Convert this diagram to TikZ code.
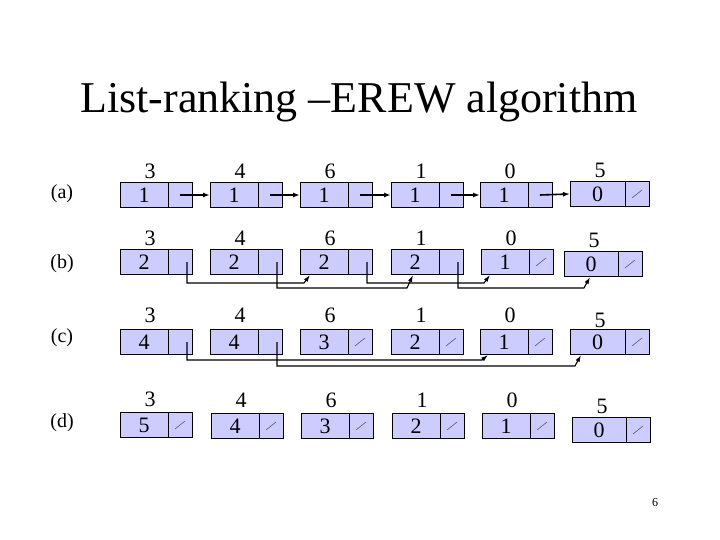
\documentclass[tikz,border=0pt]{standalone}
\usepackage{fontspec}
\setmainfont{Liberation Serif}
\usetikzlibrary{calc,arrows.meta}
\definecolor{boxfill}{RGB}{204,204,255}
\tikzset{
  valbox/.style={draw=black, line width=0.9pt, fill=boxfill, minimum height=25pt, inner sep=0pt, outer sep=0pt, font=\fontsize{22}{24}\selectfont},
  ptrbox/.style={draw=black, line width=0.9pt, fill=boxfill, minimum height=25pt, minimum width=24pt, inner sep=0pt, outer sep=0pt, anchor=west},
  toplab/.style={font=\fontsize{22}{24}\selectfont, inner sep=0pt},
  rowlab/.style={font=\fontsize{20}{22}\selectfont, inner sep=0pt},
  nullmark/.style={line width=0.5pt, draw=black!70},
  nextarrow/.style={line width=1.6pt, -{Latex[length=7pt,width=5pt]}},
  conn/.style={line width=1.1pt, -{Latex[length=7pt,width=4.5pt]}}
}
% name, left x, centre y, value width, top label, value, label y
\newcommand\lnode[7]{%
  \node[valbox, minimum width=#4pt] (#1v) at ({#2+#4/2},#3) {#6};
  \node[ptrbox] (#1p) at (#1v.east) {};
  \node[toplab] (#1l) at ({#2+30},#7) {#5};
}
\newcommand\nullp[1]{\draw[nullmark] ($(#1p.center)+(-5,4)$) -- ($(#1p.center)+(5,-4)$);}
\newcommand\jump[4]{%
  \draw[conn] ($(#1p.east)+(-5,0)$) |- ($(#2v.south west)+({#4-6},#3)$) -- ($(#2v.south west)+(#4,0.5)$);}
\begin{document}
\begin{tikzpicture}[x=1pt,y=-1pt]
\useasboundingbox (0,0) rectangle (720,540);
\node[font=\fontsize{44}{48}\selectfont, inner sep=0pt, anchor=base] (title) at (359,113) {List-ranking –EREW algorithm};

\node[rowlab] (la) at (62,194) {(a)};
\node[rowlab] (lb) at (62,264) {(b)};
\node[rowlab] (lc) at (62,338) {(c)};
\node[rowlab] (ld) at (62,423) {(d)};

% row a
\lnode{a1}{120}{195}{48}{3}{1}{171}
\lnode{a2}{210}{195}{48}{4}{1}{171}
\lnode{a3}{300}{195}{48}{6}{1}{171}
\lnode{a4}{391}{195}{48}{1}{1}{171}
\lnode{a5}{480}{195}{48}{0}{1}{171}
\lnode{a6}{570}{194}{55}{5}{0}{170}
\nullp{a6}
\foreach \s/\t in {a1/a2,a2/a3,a3/a4,a4/a5,a5/a6}
  \draw[nextarrow] (\s p.center) -- (\t v.west);

% row b
\lnode{b1}{120}{262}{48}{3}{2}{238}
\lnode{b2}{210}{262}{48}{4}{2}{238}
\lnode{b3}{300}{262}{48}{6}{2}{238}
\lnode{b4}{391}{262}{48}{1}{2}{238}
\lnode{b5}{481}{262}{48}{0}{1}{238}
\lnode{b6}{564}{264}{54}{5}{0}{240}
\nullp{b5}\nullp{b6}
\jump{b1}{b3}{8.5}{10}
\jump{b2}{b4}{13.5}{22}
\jump{b3}{b5}{8.5}{9}
\jump{b4}{b6}{11.5}{26}

% row c
\lnode{c1}{120}{342}{48}{3}{4}{315}
\lnode{c2}{210}{342}{48}{4}{4}{315}
\lnode{c3}{300}{342}{48}{6}{3}{315}
\lnode{c4}{391}{342}{48}{1}{2}{315}
\lnode{c5}{480}{342}{48}{0}{1}{315}
\lnode{c6}{570}{342}{55}{5}{0}{320}
\nullp{c3}\nullp{c4}\nullp{c5}\nullp{c6}
\jump{c1}{c5}{5.5}{8}
\jump{c2}{c6}{11.5}{11}

% row d
\lnode{d1}{120}{425}{48}{3}{5}{399}
\lnode{d2}{211}{426}{48}{4}{4}{400}
\lnode{d3}{301}{426}{48}{6}{3}{400}
\lnode{d4}{392}{426}{48}{1}{2}{400}
\lnode{d5}{482}{426}{48}{0}{1}{400}
\lnode{d6}{572}{430}{54}{5}{0}{406}
\nullp{d1}\nullp{d2}\nullp{d3}\nullp{d4}\nullp{d5}\nullp{d6}

\node[font=\fontsize{12}{14}\selectfont, inner sep=0pt] (page) at (655,503) {6};
\end{tikzpicture}
\end{document}
